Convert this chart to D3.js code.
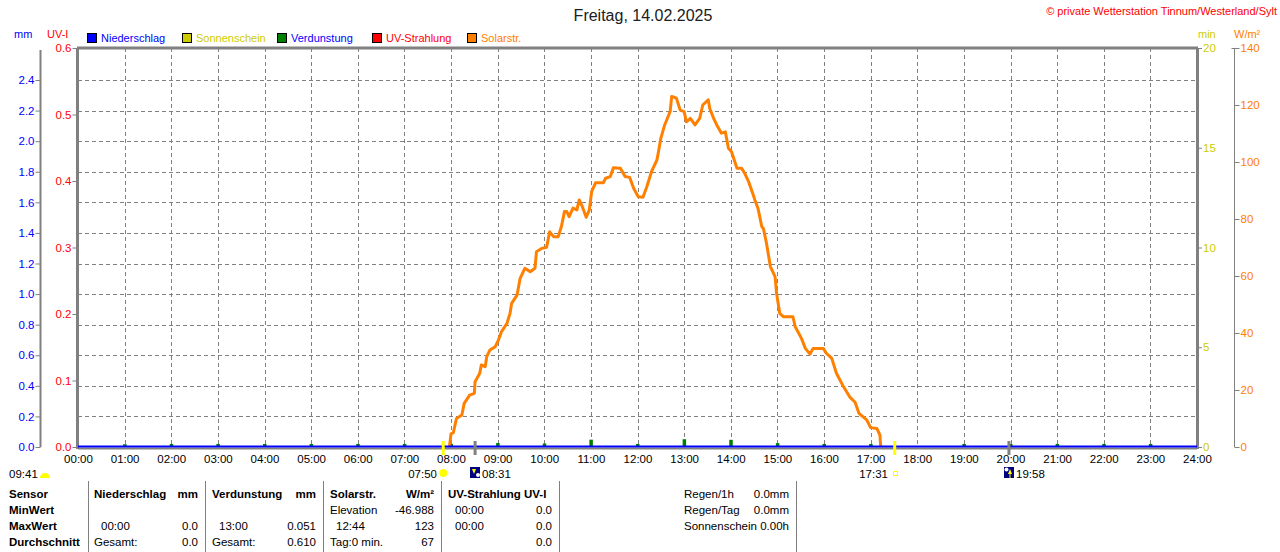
<!DOCTYPE html>
<html><head><meta charset="utf-8">
<script src="https://cdn.jsdelivr.net/npm/d3@7"></script>
<style>
html,body{margin:0;padding:0;background:#fff;}
svg{display:block;font-family:"Liberation Sans",Arial,sans-serif;}
</style></head>
<body><svg id="c" width="1280" height="552"></svg>
<script>
// ---------- data ----------
const solarTimes = ["07:58","08:00","08:03","08:07","08:14","08:17","08:24","08:30","08:31","08:37","08:39","08:44","08:46","08:50","08:57","09:01","09:05","09:12","09:16","09:18","09:25","09:29","09:35","09:42","09:48","09:50","09:57","10:03","10:07","10:12","10:18","10:22","10:26","10:29","10:32","10:37","10:42","10:45","10:49","10:54","10:58","11:01","11:06","11:16","11:19","11:25","11:29","11:38","11:44","11:50","11:55","12:01","12:07","12:12","12:18","12:25","12:27","12:30","12:35","12:42","12:44","12:50","12:55","13:00","13:03","13:08","13:14","13:20","13:24","13:31","13:33","13:38","13:42","13:48","13:53","13:57","14:01","14:08","14:14","14:18","14:23","14:29","14:31","14:35","14:40","14:42","14:46","14:51","14:57","14:59","15:03","15:08","15:20","15:23","15:31","15:36","15:42","15:46","15:59","16:03","16:10","16:16","16:25","16:33","16:40","16:45","16:55","17:00","17:08","17:12","17:13"];
const solarValues = [0,4.6,5,10,11.2,15.3,18.2,18.8,22.9,25.9,28.8,28.2,31.7,34,35.2,37.5,40.5,43.4,46.9,50.4,53.3,59.2,62.7,61.5,62.7,68.5,69.7,70.1,75.5,73.8,73.8,77.3,82.6,82.6,80.8,83.8,83.2,86.7,84.3,80.6,83.2,89.6,92.7,92.7,94.3,94.9,98,97.8,94.9,94.6,90.8,87.8,87.6,91.3,96.6,100.7,103.6,108.3,113,117.7,123,122.4,118.2,117.7,114.1,115.3,113,115.3,120,121.8,118.8,115.3,113,110.1,110.6,104.8,103.6,97.8,97.8,96,93.1,88.4,86.7,83.8,77.3,76.7,71.5,63.3,59.8,53.9,46.9,45.7,45.7,42.2,38.1,34.6,32.6,34.6,34.6,32.9,31.1,25.9,21.2,17.6,15.7,11.8,9.5,6.8,6.5,4.2,0];
const evapHours = [1,2,3,4,5,6,7,8,9,10,11,12,13,14,15,16,17,18,19,20,21,22,23];
const evapValues = [0.018,0.02,0.02,0.02,0.02,0.02,0.02,0.02,0.026,0.023,0.048,0.02,0.051,0.047,0.025,0.02,0.02,0,0.02,0.02,0.02,0.02,0.02];
const rainValues = [0,0];           // Niederschlag 00:00 .. 24:00
const hourLabels = d3.range(0,25).map(h => String(h).padStart(2,"0")+":00");
const mmTicks = [0,0.2,0.4,0.6,0.8,1.0,1.2,1.4,1.6,1.8,2.0,2.2,2.4];
const uvTicks = [0,0.1,0.2,0.3,0.4,0.5,0.6];
const minTicks = [0,5,10,15,20];
const wTicks = [0,20,40,60,80,100,120,140];
const legendItems = [
  {name:"Niederschlag", box:"#0000ff", text:"#0000ff"},
  {name:"Sonnenschein", box:"#cccc00", text:"#cccc00"},
  {name:"Verdunstung", box:"#008000", text:"#0000ff"},
  {name:"UV-Strahlung", box:"#ff0000", text:"#ff0000"},
  {name:"Solarstr.", box:"#ff8000", text:"#ff8000"}
];
const astro = {sunrise:"07:50", sunset:"17:31", moonrise:"08:31", moonset:"19:58", daylen:"09:41"};

// ---------- scales ----------
const L=78, R=1197, T=48, B=447;
const toMin = s => { const [h,m]=s.split(":").map(Number); return h*60+m; };
const x = d3.scaleLinear().domain([0,1440]).range([L,R]);
const yW = d3.scaleLinear().domain([0,140]).range([B,T]);
const yUV = d3.scaleLinear().domain([0,0.6]).range([B,T]);
const yMin = d3.scaleLinear().domain([0,20]).range([B,T]);
const yMM = d3.scaleLinear().domain([0,2.4*(B-T)/(B-80)]).range([B,T]);

const svg = d3.select("#c");
const gray="#808080";

// title
svg.append("text").attr("x",643).attr("y",21).attr("text-anchor","middle")
  .attr("font-size",16).attr("fill","#202020").text("Freitag, 14.02.2025");
svg.append("text").attr("x",1277).attr("y",15).attr("text-anchor","end")
  .attr("font-size",11).attr("fill","#ff0000").text("\u00A9 private Wetterstation Tinnum/Westerland/Sylt");

// unit labels
svg.append("text").attr("x",14).attr("y",38).attr("font-size",11).attr("fill","#0000ff").text("mm");
svg.append("text").attr("x",47).attr("y",38).attr("font-size",11).attr("fill","#ff0000").text("UV-I");
svg.append("text").attr("x",1198).attr("y",38).attr("font-size",11).attr("fill","#cccc00").text("min");
svg.append("text").attr("x",1234).attr("y",38).attr("font-size",11).attr("fill","#ff8000").text("W/m\u00B2");

// legend
const legX=[87,182,277,372,467];
legendItems.forEach((d,i)=>{
  svg.append("rect").attr("x",legX[i]+0.5).attr("y",33.5).attr("width",9).attr("height",9)
    .attr("fill",d.box).attr("stroke","#000").attr("stroke-width",1);
  svg.append("text").attr("x",legX[i]+14).attr("y",42).attr("font-size",11).attr("fill",d.text).text(d.name);
});

// grid
const gg = svg.append("g");
mmTicks.filter(v=>v>0).forEach(v=>{
  gg.append("line").attr("x1",L).attr("x2",R).attr("y1",Math.round(yMM(v))+0.5).attr("y2",Math.round(yMM(v))+0.5)
    .attr("stroke",gray).attr("stroke-dasharray","4,3");
});
d3.range(1,24).forEach(h=>{
  const xx=Math.round(x(h*60))+0.5;
  gg.append("line").attr("x1",xx).attr("x2",xx).attr("y1",T).attr("y2",B)
    .attr("stroke",gray).attr("stroke-dasharray","4,3");
});

// left mm axis
const mmAx = d3.axisLeft(yMM).tickValues(mmTicks).tickFormat(d3.format(".1f")).tickSize(5).tickSizeOuter(0);
const gmm = svg.append("g").attr("transform","translate(40.5,0)").call(mmAx);
gmm.select(".domain").attr("stroke",gray).attr("stroke-width",2).attr("d",`M0,${T+2}V${B}`);
gmm.selectAll(".tick line").attr("stroke",gray);
gmm.selectAll(".tick text").attr("fill","#0000ff").attr("font-size",11.5).attr("font-family","Liberation Sans, Arial").attr("x",-6);

// UV axis
const uvAx = d3.axisLeft(yUV).tickValues(uvTicks).tickFormat(d3.format(".1f")).tickSize(5).tickSizeOuter(0);
const guv = svg.append("g").attr("transform",`translate(${L-0.5},0)`).call(uvAx);
guv.select(".domain").remove();
guv.selectAll(".tick line").attr("stroke",gray);
guv.selectAll(".tick text").attr("fill","#ff0000").attr("font-size",11.5).attr("font-family","Liberation Sans, Arial").attr("x",-6);

// right min axis
const minAx = d3.axisRight(yMin).tickValues(minTicks).tickSize(5).tickSizeOuter(0);
const gmin = svg.append("g").attr("transform",`translate(${R},0)`).call(minAx);
gmin.select(".domain").remove();
gmin.selectAll(".tick line").attr("stroke",gray);
gmin.selectAll(".tick text").attr("fill","#cccc00").attr("font-size",11.5).attr("font-family","Liberation Sans, Arial").attr("x",6);

// right W/m2 axis
const wAx = d3.axisRight(yW).tickValues(wTicks).tickSize(5).tickSizeOuter(0);
const gw = svg.append("g").attr("transform","translate(1234.5,0)").call(wAx);
gw.select(".domain").attr("stroke",gray).attr("stroke-width",1).attr("d",`M0,${T}V${B}`);
gw.append("line").attr("x1",-3).attr("x2",3).attr("y1",T+0.5).attr("y2",T+0.5).attr("stroke",gray);
gw.selectAll(".tick line").attr("stroke",gray);
gw.selectAll(".tick text").attr("fill","#ff8000").attr("font-size",11.5).attr("font-family","Liberation Sans, Arial").attr("x",6);

// x axis
const xAx = d3.axisBottom(x).tickValues(d3.range(0,1441,60)).tickFormat((d,i)=>hourLabels[i]).tickSize(0);
const gx = svg.append("g").attr("transform",`translate(0,${B+1})`).call(xAx);
gx.select(".domain").remove();
gx.selectAll(".tick text").attr("fill","#000").attr("font-size",11.5).attr("font-family","Liberation Sans, Arial").attr("dy","1.0em");

// frame
svg.append("line").attr("x1",L-1).attr("x2",R+1).attr("y1",T).attr("y2",T).attr("stroke",gray).attr("stroke-width",3);
svg.append("line").attr("x1",L-0.5).attr("x2",L-0.5).attr("y1",T).attr("y2",B+2).attr("stroke",gray).attr("stroke-width",3);
svg.append("line").attr("x1",R+0.5).attr("x2",R+0.5).attr("y1",T).attr("y2",B+2).attr("stroke",gray).attr("stroke-width",3);
svg.append("line").attr("x1",L).attr("x2",R).attr("y1",B+1.5).attr("y2",B+1.5).attr("stroke",gray).attr("stroke-width",2);

// evaporation marks
svg.append("g").selectAll("rect").data(evapHours.map((h,i)=>({h,v:evapValues[i]})).filter(d=>d.v>0))
  .join("rect").attr("x",d=>x(d.h*60)-1.5).attr("width",3.5)
  .attr("y",d=>yMM(d.v)).attr("height",d=>B-yMM(d.v)).attr("fill","#008000");

// solar line
const solar = solarTimes.map((t,i)=>({t:toMin(t),v:solarValues[i]}));
svg.append("path").datum(solar)
  .attr("d",d3.line().x(d=>x(d.t)).y(d=>yW(d.v)))
  .attr("fill","none").attr("stroke","#ff8000").attr("stroke-width",3).attr("stroke-linejoin","round");

// rain line (zero)
svg.append("path").datum(rainValues.map((v,i)=>({t:i*1440,v})))
  .attr("d",d3.line().x(d=>x(d.t)).y(d=>yMM(d.v)-0.5))
  .attr("fill","none").attr("stroke","#0000ff").attr("stroke-width",2);

// astro markers
const mk = (t,col,w)=>svg.append("rect").attr("x",x(toMin(t))-w/2).attr("y",441).attr("width",w).attr("height",14).attr("fill",col);
mk(astro.sunrise,"#ffff00",3);
mk(astro.sunset,"#ffff00",3);
mk(astro.moonrise,gray,3);
mk(astro.moonset,gray,3);

const fs=11.5;
svg.append("text").attr("x",9).attr("y",478).attr("font-size",fs).text(astro.daylen);
svg.append("path").attr("d","M40,478 A5,5 0 0 1 50,478 Z").attr("fill","#ffff00");
svg.append("text").attr("x",437).attr("y",478).attr("text-anchor","end").attr("font-size",fs).text(astro.sunrise);
const sx=x(toMin(astro.sunrise)), sy=473;
svg.append("circle").attr("cx",sx).attr("cy",sy).attr("r",4).attr("fill","#ffff00");
d3.range(8).forEach(k=>{const a=k*Math.PI/4;
  svg.append("line").attr("x1",sx+Math.cos(a)*5).attr("y1",sy+Math.sin(a)*5).attr("x2",sx+Math.cos(a)*7).attr("y2",sy+Math.sin(a)*7).attr("stroke","#ffff99").attr("stroke-width",1);});
// moonrise icon
svg.append("rect").attr("x",470).attr("y",467).attr("width",10).attr("height",11).attr("fill","#000080");
svg.append("path").attr("d","M472,469 L476,469 L474,474 Z").attr("fill","#ffff00");
svg.append("rect").attr("x",473.5).attr("y",469).attr("width",1).attr("height",3).attr("fill","#ffff00");
svg.append("circle").attr("cx",478).attr("cy",475).attr("r",2).attr("fill","#ffffff");
svg.append("text").attr("x",482).attr("y",478).attr("font-size",fs).text(astro.moonrise);
svg.append("text").attr("x",888).attr("y",478).attr("text-anchor","end").attr("font-size",fs).text(astro.sunset);
svg.append("rect").attr("x",893.5).attr("y",471.5).attr("width",4).attr("height",4).attr("fill","none").attr("stroke","#ffff00");
// moonset icon
svg.append("rect").attr("x",1004).attr("y",467).attr("width",10).attr("height",11).attr("fill","#000080");
svg.append("circle").attr("cx",1006.5).attr("cy",469.5).attr("r",2).attr("fill","#ffffff");
svg.append("path").attr("d","M1008,474 L1012,474 L1010,469 Z").attr("fill","#ffff00");
svg.append("rect").attr("x",1009.5).attr("y",473).attr("width",1).attr("height",5).attr("fill","#ffff00");
svg.append("text").attr("x",1016).attr("y",478).attr("font-size",fs).text(astro.moonset);

// table
[88,205,323,441,559,796].forEach(v=>svg.append("line").attr("x1",v+0.5).attr("x2",v+0.5).attr("y1",481).attr("y2",552).attr("stroke",gray));
const rows=[498,514,530,546];
const T_ = (xx,yy,s,opt={})=>svg.append("text").attr("x",xx).attr("y",yy).attr("font-size",fs)
  .attr("font-weight",opt.b?"bold":"normal").attr("text-anchor",opt.e?"end":"start").attr("fill","#000").text(s);
T_(9,rows[0],"Sensor",{b:1}); T_(9,rows[1],"MinWert",{b:1}); T_(9,rows[2],"MaxWert",{b:1}); T_(9,rows[3],"Durchschnitt",{b:1});
T_(94,rows[0],"Niederschlag",{b:1}); T_(198,rows[0],"mm",{b:1,e:1});
T_(101,rows[2],"00:00"); T_(198,rows[2],"0.0",{e:1});
T_(94,rows[3],"Gesamt:"); T_(198,rows[3],"0.0",{e:1});
T_(212,rows[0],"Verdunstung",{b:1}); T_(316,rows[0],"mm",{b:1,e:1});
T_(219,rows[2],"13:00"); T_(316,rows[2],"0.051",{e:1});
T_(212,rows[3],"Gesamt:"); T_(316,rows[3],"0.610",{e:1});
T_(330,rows[0],"Solarstr.",{b:1}); T_(434,rows[0],"W/m\u00B2",{b:1,e:1});
T_(330,rows[1],"Elevation"); T_(434,rows[1],"-46.988",{e:1});
T_(336,rows[2],"12:44"); T_(434,rows[2],"123",{e:1});
T_(330,rows[3],"Tag:0 min."); T_(434,rows[3],"67",{e:1});
T_(448,rows[0],"UV-Strahlung UV-I",{b:1});
T_(455,rows[1],"00:00"); T_(552,rows[1],"0.0",{e:1});
T_(455,rows[2],"00:00"); T_(552,rows[2],"0.0",{e:1});
T_(552,rows[3],"0.0",{e:1});
T_(684,rows[0],"Regen/1h"); T_(789,rows[0],"0.0mm",{e:1});
T_(684,rows[1],"Regen/Tag"); T_(789,rows[1],"0.0mm",{e:1});
T_(684,rows[2],"Sonnenschein"); T_(789,rows[2],"0.00h",{e:1});
</script></body></html>
